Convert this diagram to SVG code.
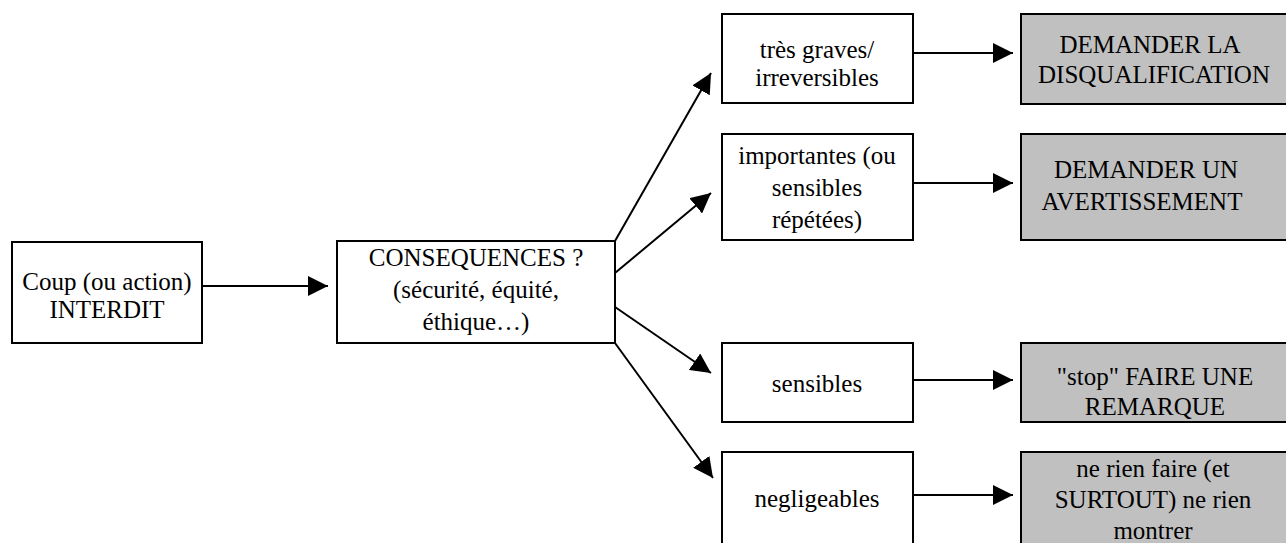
<svg xmlns="http://www.w3.org/2000/svg" width="1286" height="543" viewBox="0 0 1286 543">
<style>
.box{fill:#ffffff;stroke:#000000;stroke-width:2}
.act{fill:#c0c0c0;stroke:#000000;stroke-width:2}
.t{font-family:"Liberation Serif","Times New Roman",serif;font-size:25px;fill:#000000;text-anchor:middle}
.c{fill:none;stroke:#000000;stroke-width:2;marker-end:url(#ah)}
</style>
<defs>
<marker id="ah" markerUnits="userSpaceOnUse" markerWidth="20" markerHeight="20" refX="20" refY="10" orient="auto" viewBox="0 0 20 20">
<path d="M0,0 L20,10 L0,20 z" fill="#000000"/>
</marker>
</defs>
<rect width="1286" height="543" fill="#ffffff"/>
<g id="connectors">
<line class="c" x1="202" y1="286" x2="328" y2="286"/>
<line class="c" x1="615" y1="241" x2="711" y2="73"/>
<line class="c" x1="615" y1="273" x2="711" y2="193"/>
<line class="c" x1="615" y1="307" x2="711" y2="373"/>
<line class="c" x1="615" y1="343" x2="713" y2="478"/>
<line class="c" x1="913" y1="53" x2="1013" y2="53"/>
<line class="c" x1="913" y1="183" x2="1013" y2="183"/>
<line class="c" x1="913" y1="380" x2="1013" y2="380"/>
<line class="c" x1="913" y1="495" x2="1013" y2="495"/>
</g>
<g id="n-coup">
<rect class="box" x="12" y="242" width="190" height="101"/>
<text class="t" x="107" y="290">Coup (ou action)</text>
<text class="t" x="107" y="318">INTERDIT</text>
</g>
<g id="n-consequences">
<rect class="box" x="337" y="241" width="278" height="102"/>
<text class="t" x="476" y="266">CONSEQUENCES ?</text>
<text class="t" x="476" y="298">(sécurité, équité,</text>
<text class="t" x="476" y="330">éthique…)</text>
</g>
<g id="n-graves">
<rect class="box" x="722" y="14" width="191" height="89"/>
<text class="t" x="817" y="58">très graves/</text>
<text class="t" x="817" y="86">irreversibles</text>
</g>
<g id="n-importantes">
<rect class="box" x="722" y="134" width="191" height="106"/>
<text class="t" x="817" y="164">importantes (ou</text>
<text class="t" x="817" y="196">sensibles</text>
<text class="t" x="817" y="228">répétées)</text>
</g>
<g id="n-sensibles">
<rect class="box" x="722" y="343" width="191" height="79"/>
<text class="t" x="817" y="392">sensibles</text>
</g>
<g id="n-negligeables">
<rect class="box" x="722" y="452" width="191" height="110"/>
<text class="t" x="817" y="507">negligeables</text>
</g>
<g id="n-disqualification">
<rect class="act" x="1021" y="14" width="280" height="90"/>
<text class="t" x="1150" y="53">DEMANDER LA</text>
<text class="t" x="1154" y="83">DISQUALIFICATION</text>
</g>
<g id="n-avertissement">
<rect class="act" x="1021" y="134" width="280" height="106"/>
<text class="t" x="1146" y="178">DEMANDER UN</text>
<text class="t" x="1142" y="210">AVERTISSEMENT</text>
</g>
<g id="n-remarque">
<rect class="act" x="1021" y="343" width="280" height="79"/>
<text class="t" x="1155" y="385">"stop" FAIRE UNE</text>
<text class="t" x="1155" y="415">REMARQUE</text>
</g>
<g id="n-rien">
<rect class="act" x="1021" y="452" width="280" height="110"/>
<text class="t" x="1153" y="477">ne rien faire (et</text>
<text class="t" x="1153" y="508">SURTOUT) ne rien</text>
<text class="t" x="1153" y="539">montrer</text>
</g>
</svg>
